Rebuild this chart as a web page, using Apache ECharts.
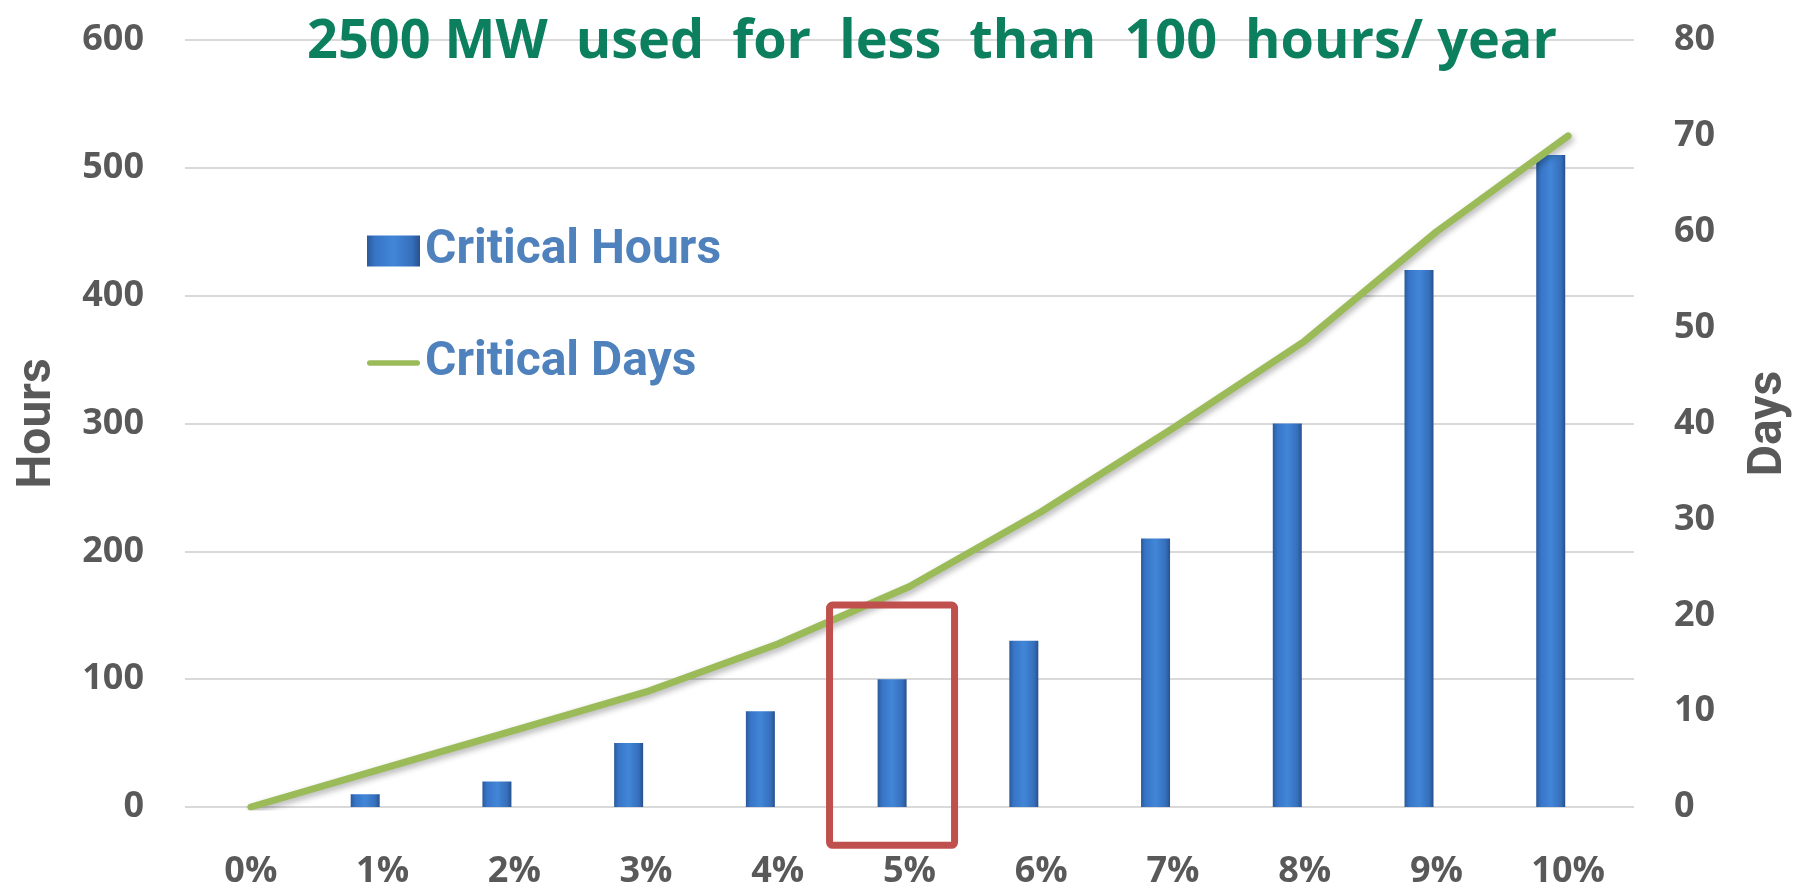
<!DOCTYPE html>
<html>
<head>
<meta charset="utf-8">
<script src="https://cdn.jsdelivr.net/npm/echarts@6/dist/echarts.min.js"></script>
<style>
html,body{margin:0;padding:0;background:#fff;}
#chart{width:1805px;height:893px;}
</style>
</head>
<body>
<div id="chart"></div>
<script>
// ---- data ----
const categories = ['0%','1%','2%','3%','4%','5%','6%','7%','8%','9%','10%'];
const criticalHours = [0, 10, 20, 50, 75, 100, 130, 210, 300, 420, 510];
const criticalDays = [0, 4, 8, 12, 17, 23, 30.8, 39.5, 48.6, 60, 70];
const hoursTicks = [0, 600, 100];   // min, max, interval
const daysTicks = [0, 80, 10];      // min, max, interval
const titleText = '2500 MW  used  for  less  than  100  hours/ year';
const highlightCategory = '5%';
const highlightRange = [-30, 158]; // hours (bottom, top)

const chart = echarts.init(document.getElementById('chart'), null, {renderer: 'canvas'});

const labelFont = {fontFamily: 'Open Sans', fontWeight: 'bold', fontSize: 36, color: '#595959'};

const barGradient = new echarts.graphic.LinearGradient(0, 0, 1, 0, [
  {offset: 0, color: '#2a5a9a'},
  {offset: 0.15, color: '#3774c6'},
  {offset: 0.5, color: '#4286d8'},
  {offset: 0.85, color: '#356fbc'},
  {offset: 1, color: '#28518c'}
]);

const option = {
  animation: false,
  backgroundColor: '#ffffff',
  title: {
    text: titleText,
    left: 927,
    top: 11,
    textAlign: 'center',
    textStyle: {fontFamily: 'Open Sans', fontWeight: 'bold', fontSize: 54, color: '#0b7f5e'}
  },
  legend: {
    orient: 'vertical',
    left: 362,
    top: 221,
    itemWidth: 53,
    itemHeight: 31,
    itemGap: 62,
    data: [
      {name: 'Critical Hours', icon: 'rect'},
      {name: 'Critical Days', icon: 'path://M0,0 M53,31 M1,12.5 L52,12.5 A3,3 0 0 1 52,18.5 L1,18.5 A3,3 0 0 1 1,12.5 Z',
       itemStyle: {color: '#9bbb59'}}
    ],
    textStyle: {fontFamily: 'Roboto', fontWeight: 'bold', fontSize: 48, color: '#4f81bd', lineHeight: 50}
  },
  grid: {left: 185, right: 171, top: 40, bottom: 86, containLabel: false, outerBoundsMode: 'none'},
  xAxis: {
    type: 'category',
    data: categories,
    boundaryGap: true,
    axisLine: {show: false},
    axisTick: {show: false},
    axisLabel: Object.assign({margin: 47}, labelFont)
  },
  yAxis: [
    {
      type: 'value',
      min: hoursTicks[0], max: hoursTicks[1], interval: hoursTicks[2],
      name: 'Hours',
      nameLocation: 'middle',
      nameRotate: 90,
      nameGap: 123,
      nameTextStyle: {fontFamily: 'Roboto', fontWeight: 'bold', fontSize: 48, color: '#595959'},
      axisLine: {show: false},
      axisTick: {show: false},
      axisLabel: Object.assign({margin: 41}, labelFont),
      splitLine: {lineStyle: {color: '#d9d9d9', width: 2}}
    },
    {
      type: 'value',
      min: daysTicks[0], max: daysTicks[1], interval: daysTicks[2],
      name: 'Days',
      nameLocation: 'middle',
      nameRotate: 90,
      nameGap: 111,
      nameTextStyle: {fontFamily: 'Roboto', fontWeight: 'bold', fontSize: 48, color: '#595959'},
      axisLine: {show: false},
      axisTick: {show: false},
      axisLabel: Object.assign({margin: 40}, labelFont),
      splitLine: {show: false}
    }
  ],
  series: [
    {
      name: 'Critical Hours',
      type: 'bar',
      yAxisIndex: 0,
      data: criticalHours,
      barWidth: 29,
      barGap: '20%',
      itemStyle: {
        color: barGradient,
        shadowColor: 'rgba(0,0,0,0.25)',
        shadowBlur: 3,
        shadowOffsetX: 1
      },
      z: 2
    },
    {
      name: 'spacer',
      type: 'bar',
      yAxisIndex: 0,
      data: categories.map(() => null),
      barWidth: 29,
      silent: true
    },
    {
      name: 'Critical Days',
      type: 'line',
      yAxisIndex: 1,
      data: criticalDays,
      symbol: 'none',
      smooth: false,
      lineStyle: {
        color: '#9bbb59', width: 7, cap: 'round', join: 'round',
        shadowColor: 'rgba(0,0,0,0.3)', shadowBlur: 6, shadowOffsetX: 2, shadowOffsetY: 3
      },
      itemStyle: {color: '#9bbb59'},
      z: 3
    }
  ]
};

chart.setOption(option);

// highlight rectangle around the 5% category
function drawHighlight() {
  const idx = categories.indexOf(highlightCategory);
  const pTop = chart.convertToPixel({xAxisIndex: 0, yAxisIndex: 0}, [idx, highlightRange[1]]);
  const pBot = chart.convertToPixel({xAxisIndex: 0, yAxisIndex: 0}, [idx, highlightRange[0]]);
  const p0 = chart.convertToPixel({xAxisIndex: 0, yAxisIndex: 0}, [0, 0]);
  const p1 = chart.convertToPixel({xAxisIndex: 0, yAxisIndex: 0}, [1, 0]);
  const step = p1[0] - p0[0];
  const x1 = pTop[0] - 0.607 * step;
  const x2 = pTop[0] + 0.342 * step;
  chart.setOption({
    graphic: [{
      type: 'rect',
      shape: {x: x1, y: pTop[1], width: x2 - x1, height: pBot[1] - pTop[1], r: 3},
      style: {fill: 'none', stroke: '#c0504d', lineWidth: 7},
      z: 100
    }]
  });
}
drawHighlight();
</script>
</body>
</html>
